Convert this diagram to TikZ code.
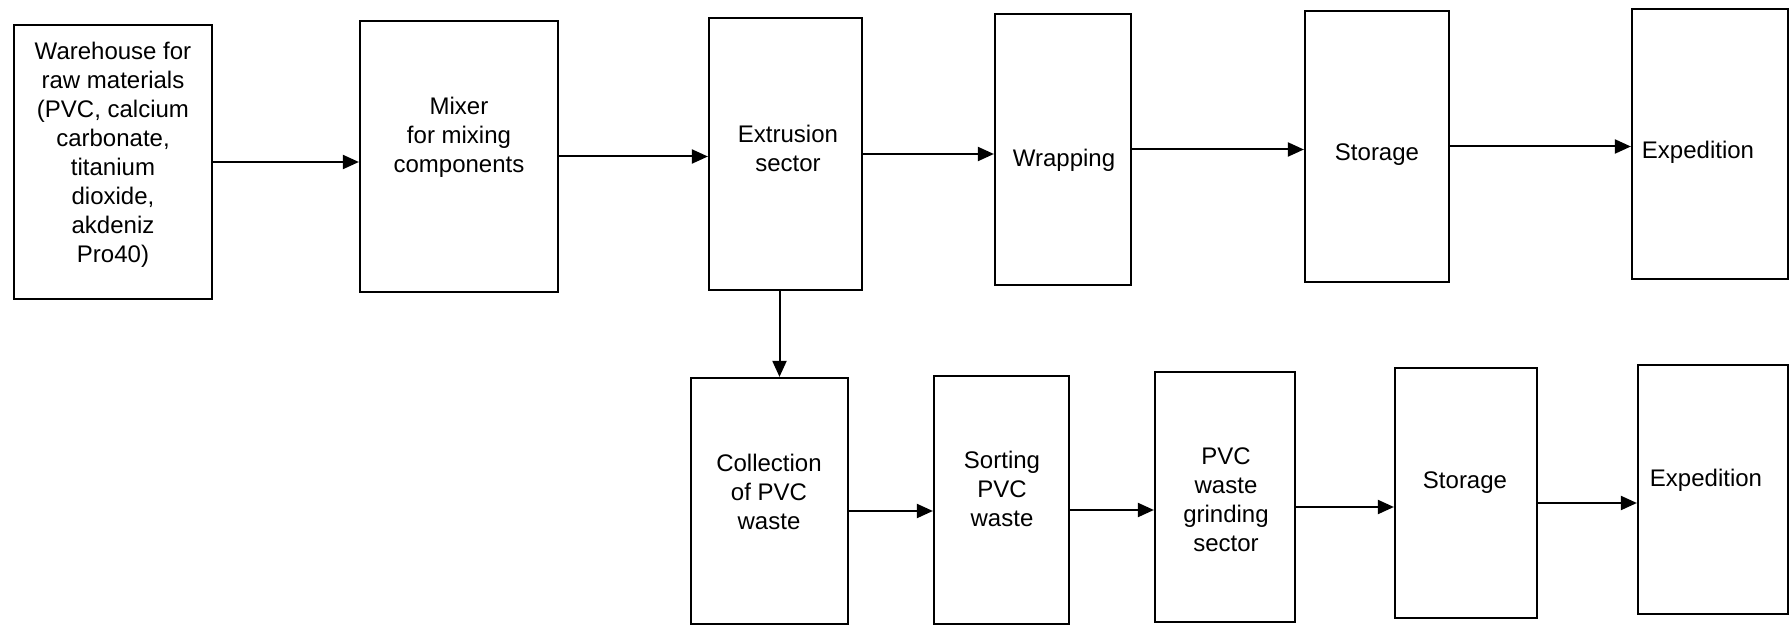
\documentclass[tikz,border=0pt]{standalone}
\usepackage{fontspec}
\setmainfont{Liberation Sans}
\usepackage{tikz}
\usetikzlibrary{arrows.meta}

\begin{document}
\begin{tikzpicture}[x=0.5pt,y=-0.5pt,
  blk/.style n args={2}{draw,line width=1.1pt,minimum width=#1*0.5pt,minimum height=#2*0.5pt,inner sep=0pt},
  txt/.style={align=center,font=\fontsize{12}{14.5}\selectfont},
  arr/.style={line width=1pt,-{Triangle[length=8pt,width=7pt]}}]
\useasboundingbox (0,0) rectangle (1790,626);
% upper row: production line
\node[blk={198}{274}] (ware) at (113,162) {};
\node[blk={198}{271}] (mix) at (459,156.5) {};
\node[blk={153}{272}] (extr) at (785.5,154) {};
\node[blk={136}{271}] (wrap) at (1063,149.5) {};
\node[blk={144}{271}] (stor) at (1377,146.5) {};
\node[blk={156}{270}] (exped) at (1710,144) {};
\node[txt] (ware-t) at (113,155) {Warehouse for\\raw materials\\(PVC, calcium\\carbonate,\\titanium\\dioxide,\\akdeniz\\Pro40)};
\node[txt] (mix-t) at (459,137) {Mixer\\for mixing\\components};
\node[txt] (extr-t) at (788,148) {Extrusion\\sector};
\node[txt] (wrap-t) at (1064,160) {Wrapping};
\node[txt] (stor-t) at (1377,155) {Storage};
\node[txt] (exped-t) at (1698,152) {Expedition};
% lower row: PVC waste
\node[blk={157}{246}] (coll) at (769.5,501) {};
\node[blk={135}{248}] (sort) at (1001.5,500) {};
\node[blk={140}{250}] (grind) at (1225,497) {};
\node[blk={142}{250}] (stor2) at (1466,493) {};
\node[blk={150}{249}] (exped2) at (1713,489.5) {};
\node[txt] (coll-t) at (769,492) {Collection\\of PVC\\waste};
\node[txt] (sort-t) at (1002,489) {Sorting\\PVC\\waste};
\node[txt] (grind-t) at (1226,500) {PVC\\waste\\grinding\\sector};
\node[txt] (stor2-t) at (1465,483) {Storage};
\node[txt] (exped2-t) at (1706,480) {Expedition};
% connectors
\foreach \a/\b in {ware/mix,mix/extr,extr/wrap,wrap/stor,stor/exped} {
   \draw[arr] (\a.east) -- (\a.east -| \b.west);
}
\foreach \a/\b in {coll/sort,sort/grind,grind/stor2,stor2/exped2} {
   \draw[arr] ([yshift=-5pt]\a.east) -- ([yshift=-5pt]\a.east -| \b.west);
}
\draw[arr] ([xshift=-3pt]extr.south) -- ([xshift=-3pt]extr.south |- coll.north);
\end{tikzpicture}
\end{document}
